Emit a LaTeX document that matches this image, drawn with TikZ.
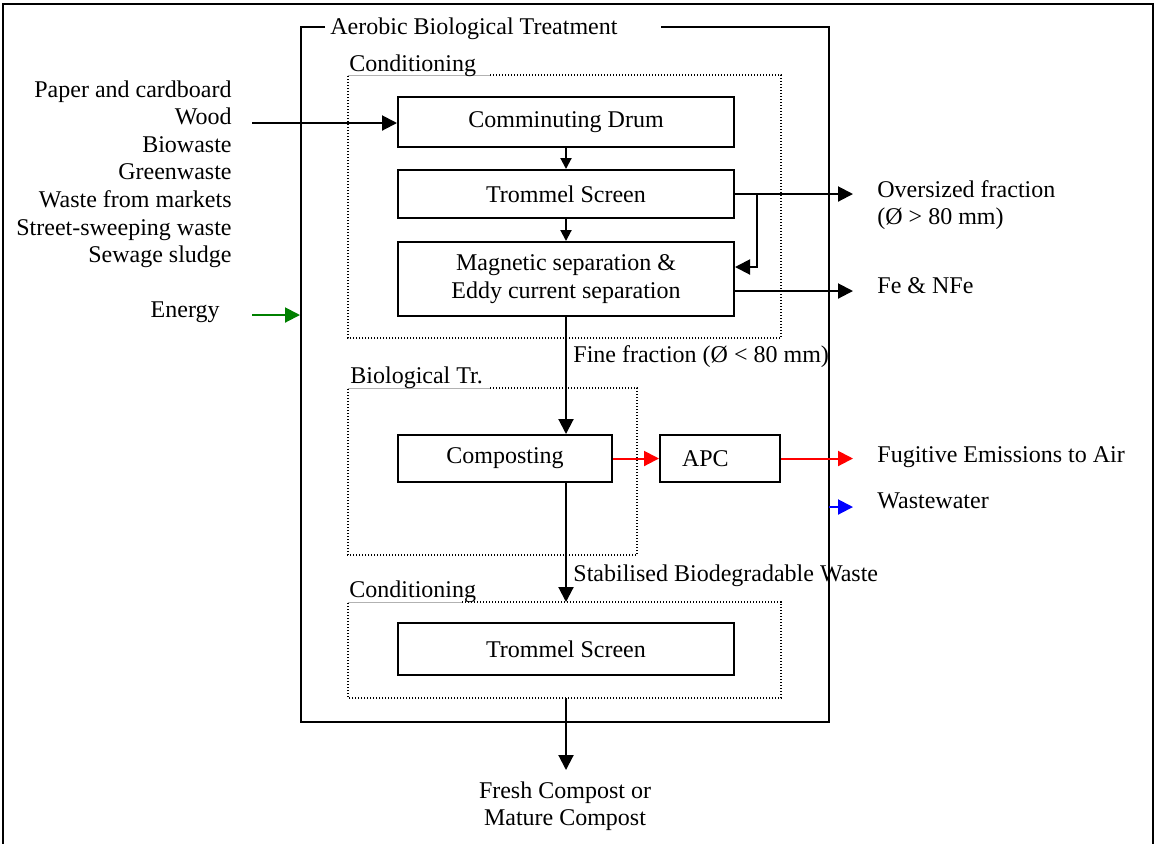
\documentclass[tikz,border=0pt]{standalone}
\usepackage{fontspec}
\setmainfont{Liberation Serif}
\usetikzlibrary{arrows.meta,calc}

\begin{document}
\begin{tikzpicture}[x=0.5pt,y=-0.5pt,
  font=\fontsize{12}{13.75}\selectfont,
  box/.style={draw, line width=1pt, inner sep=0pt, align=center},
  flow/.style={line width=1pt, -{Triangle[length=7.5pt,width=7.5pt]}},
  short/.style={line width=1pt, -{Triangle[length=5.5pt,width=5.5pt]}},
  grp/.style={line width=0.8pt, dash pattern=on 0.7pt off 0.8pt},
  grpgap/.style={line width=0.4pt, black!30},
  lbl/.style={inner sep=0pt, anchor=base west},
  src/.style={inner sep=0pt, anchor=base east},
]
\useasboundingbox (0,0) rectangle (1155,843);

% page frame
\draw[line width=1.1pt] (3,4) rectangle (1153,860);

% aerobic treatment enclosure with its title set into the top edge
\draw[line width=1pt] (325,27) -| (301,722) -| (829,27) -- (661,27);
\node[lbl] (aer) at (330,34) {Aerobic Biological Treatment};

% conditioning group (upper)
\draw[grpgap] (348,75) -- (490,75);
\draw[grp] (490,75) -- (781,75) -- (781,338) -- (348,338) -- (348,75);
\node[lbl] (cond1) at (349,71) {Conditioning};

% biological treatment group
\draw[grpgap] (348,388) -- (490,388);
\draw[grp] (490,388) -- (637,388) -- (637,555) -- (348,555) -- (348,388);
\node[lbl] (bio) at (350,383) {Biological Tr.};

% conditioning group (lower)
\draw[grpgap] (348,602) -- (462,602);
\draw[grp] (462,602) -- (781,602) -- (781,698) -- (348,698) -- (348,602);
\node[lbl] (cond2) at (349,597) {Conditioning};

% process units
\node[box, minimum width=168pt, minimum height=25pt] (drum) at (566,122) {Comminuting Drum};
\node[box, minimum width=168pt, minimum height=24pt] (trom) at (566,194) {Trommel Screen};
\node[box, minimum width=168pt, minimum height=37pt] (mag) at (566,279) {Magnetic separation \&\\Eddy current separation};
\node[box, minimum width=107pt, minimum height=23.5pt] (comp) at (505,458.5) {Composting};
\node[box, minimum width=60pt, minimum height=23.5pt, text width=38pt, inner xsep=11pt, align=left] (apc) at (720,458.5) {APC};
\node[box, minimum width=168pt, minimum height=26pt] (trom2) at (566,649) {Trommel Screen};

% input materials
\foreach \t [count=\i from 0] in {Paper and cardboard,Wood,Biowaste,Greenwaste,Waste from markets,Street-sweeping waste,Sewage sludge}
  \node[src] (in\i) at (232,97+27.6*\i) {\t};
\node[src] (energy) at (220,317) {Energy};

% free ends of connectors
\coordinate (inA) at (252,123);
\coordinate (enA) at (252,315);
\coordinate (enT) at (300,315);
\coordinate (overT) at (853,194);
\coordinate (br) at (757,194);
\coordinate (feT) at (853,291);
\coordinate (airT) at (853,458.5);
\coordinate (wwA) at (829,507);
\coordinate (wwT) at (853,507);
\coordinate (c2top) at (566,602);
\coordinate (c2bot) at (566,698);
\coordinate (outT) at (566,770);

% flows
\draw[flow] (inA) -- (inA -| drum.west);
\draw[flow, green!50!black] (enA) -- (enT);
\draw[short] (drum) -- (trom);
\draw[short] (trom) -- (mag);
\draw[flow] (trom.east) -- (overT);
\draw[flow] (br) |- ($(mag.east)+(0,-12)$);
\draw[flow] ($(mag.east)+(0,12)$) -- (feT);
\draw[flow] (mag.south) -- (mag.south |- comp.north);
\draw[flow, red] (comp) -- (apc);
\draw[flow, red] (apc.east) -- (airT);
\draw[flow, blue] (wwA) -- (wwT);
\draw[flow] (mag.south |- comp.south) -- (c2top);
\draw[flow] (c2bot) -- (outT);

% flow labels and outputs
\node[lbl] (over) at (877,197) {Oversized fraction};
\node[lbl] (over2) at (877,224.5) {(Ø > 80 mm)};
\node[lbl] (fe) at (877,293) {Fe \& NFe};
\node[lbl] (fine) at (573,362) {Fine fraction (Ø < 80 mm)};
\node[lbl] (air) at (877,462) {Fugitive Emissions to Air};
\node[lbl] (ww) at (877,508) {Wastewater};
\node[lbl] (stab) at (573,581) {Stabilised Biodegradable Waste};
\node[anchor=north, inner sep=0pt, align=center] (out) at (565,781) {Fresh Compost or\\Mature Compost};
\end{tikzpicture}
\end{document}
